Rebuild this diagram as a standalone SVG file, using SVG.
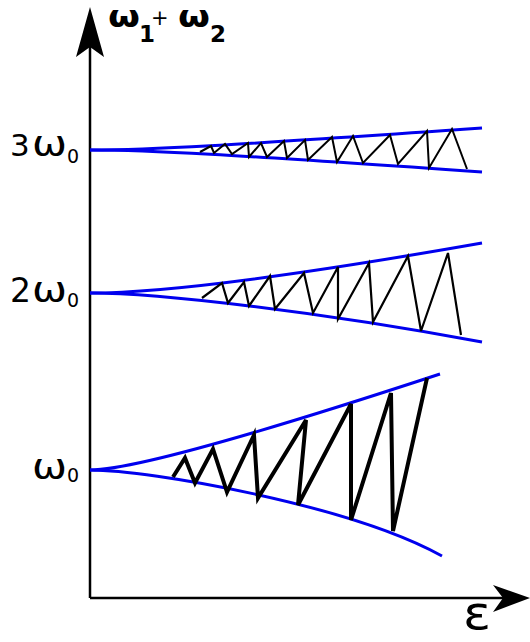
<svg xmlns="http://www.w3.org/2000/svg" width="530" height="642" viewBox="0 0 530 642">
<style>
.t{font-family:"DejaVu Sans",sans-serif;fill:#000}
.b{fill:none;stroke:#0000ee;stroke-width:3}
.z{fill:none;stroke:#000;stroke-linejoin:miter}
</style>
<rect width="530" height="642" fill="#fff"/>
<g id="axes">
<line x1="90" y1="598" x2="90" y2="40" stroke="#000" stroke-width="2.5"/>
<path d="M90,7 L104,57 L90,47 L76,57 Z" fill="#000"/>
<line x1="90" y1="598" x2="505" y2="598" stroke="#000" stroke-width="2.5"/>
<path d="M530,598 L493,585 L503,598 L493,612 Z" fill="#000"/>
</g>
<g id="labels">
<text class="t" x="108" y="27" font-size="30" font-weight="bold" textLength="32" lengthAdjust="spacingAndGlyphs">ω</text>
<text class="t" x="139" y="42" font-size="23" font-weight="bold">1</text>
<text class="t" x="151" y="25" font-size="21">+</text>
<text class="t" x="178" y="27" font-size="30" font-weight="bold" textLength="32" lengthAdjust="spacingAndGlyphs">ω</text>
<text class="t" x="210" y="42" font-size="23" font-weight="bold">2</text>
<text class="t" x="10" y="156" font-size="31">3</text>
<text class="t" x="32" y="156" font-size="35" textLength="35" lengthAdjust="spacingAndGlyphs">ω</text>
<text class="t" x="67" y="163" font-size="19">0</text>
<text class="t" x="10" y="302" font-size="33">2</text>
<text class="t" x="32" y="302" font-size="35" textLength="35" lengthAdjust="spacingAndGlyphs">ω</text>
<text class="t" x="67" y="307" font-size="19">0</text>
<text class="t" x="32" y="479" font-size="35" textLength="35" lengthAdjust="spacingAndGlyphs">ω</text>
<text class="t" x="67" y="482" font-size="19">0</text>
<text class="t" x="463" y="629" font-size="46" textLength="28" lengthAdjust="spacingAndGlyphs">ε</text>
</g>
<g id="connectors">
<path class="b" d="M90,150 C150,150 220,146 482,128"/>
<path class="b" d="M90,150 C150,150 220,154 482,172"/>
<path class="b" d="M90,293 C160,293 300,275 482,243"/>
<path class="b" d="M90,293 C160,293 320,312 482,342"/>
<path class="b" d="M90,470 C140,470 300,420 440,374"/>
<path class="b" d="M90,470 C150,470 350,505 442,556"/>
<path class="z" stroke-width="2" d="M200,152 L211,146 L214,153 L225,144 L232,154 L248,143 L249,157 L261,143 L267,157 L284,141 L287,158 L305,140 L308,160 L332,137 L337,162 L353,136 L363,163 L390,135 L398,164 L427,131 L429,168 L452,129 L467,169"/>
<path class="z" stroke-width="2.2" d="M202,298 L222,283 L228,303 L244,282 L249,306 L270,276 L275,309 L304,273 L313,313 L338,267 L338,319 L369,263 L373,322 L408,256 L421,331 L448,253 L461,335"/>
<path class="z" stroke-width="4" d="M173,477 L185,458 L195,483 L213,449 L227,492 L254,435 L258,498 L306,420 L298,505 L351,404 L351,520 L391,393 L393,531 L427,378"/>
</g>
</svg>
